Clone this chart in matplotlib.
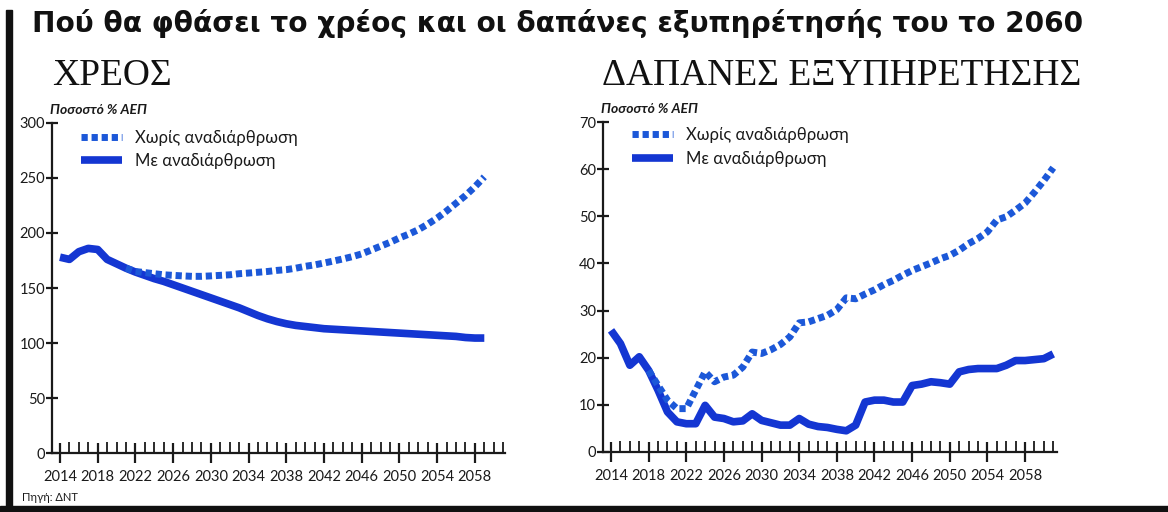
import numpy as np
import matplotlib
matplotlib.use("Agg")
import matplotlib.pyplot as plt
from matplotlib.ticker import MultipleLocator
from matplotlib.patches import Rectangle

# data to plot
years_debt = list(range(2014, 2060))
debt_with = [178, 176, 183, 186, 185, 176, 172, 168, 164.5, 161.5,
             158.5, 156, 153, 150, 147, 144, 141, 138, 135, 132,
             128.5, 125, 122, 119.5, 117.5, 116, 115, 114, 113, 112.5,
             112, 111.5, 111, 110.5, 110, 109.5, 109, 108.5, 108, 107.5,
             107, 106.5, 106, 105, 104.5, 104.5]
years_debt_no = list(range(2021, 2060))
debt_without = [168, 165, 164, 163, 162, 161.5, 161, 160.6, 160.6, 161,
                161.5, 162, 163, 163.6, 164.3, 165, 166, 166.7, 168, 169.7,
                171, 172.7, 174.5, 176.4, 178.5, 181, 184.5, 188, 191.5, 195.5,
                199, 203, 208, 213.6, 220, 227, 234, 242, 251]

years_serv = list(range(2014, 2062))
serv_with = [25.8, 23, 18.4, 20.2, 17.3, 13.1, 8.5, 6.4, 6.0, 6.0,
             9.9, 7.4, 7.1, 6.4, 6.6, 8.1, 6.7, 6.2, 5.7, 5.7,
             7.1, 5.9, 5.4, 5.2, 4.8, 4.5, 5.7, 10.6, 11.0, 11.0,
             10.6, 10.6, 14.1, 14.4, 14.9, 14.7, 14.4, 17.0, 17.5, 17.7,
             17.7, 17.7, 18.4, 19.4, 19.4, 19.6, 19.8, 20.8]
years_serv_no = list(range(2018, 2062))
serv_without = [17.3, 14.1, 11.0, 9.2, 9.2, 13.1, 17.0, 14.9, 15.9, 16.3,
                18.0, 21.2, 20.9, 21.7, 22.8, 24.4, 27.4, 27.6, 28.3, 29.0,
                30.2, 32.7, 32.5, 33.5, 34.4, 35.5, 36.4, 37.5, 38.5, 39.3,
                40.1, 41.0, 41.7, 42.8, 44.2, 45.3, 46.7, 49.2, 49.9, 51.3,
                52.8, 55.1, 57.6, 60.3]

label_no = 'Χωρίς αναδιάρθρωση'
label_with = 'Με αναδιάρθρωση'
xtick_years = list(range(2014, 2059, 4))

c_dash = '#1c58d8'
c_solid = '#1436d2'
tick_font = 'Lato'

fig = plt.figure(figsize=(11.68, 5.12), dpi=100)

# frame bars
fig.patches.append(Rectangle((0.005, 0.0), 0.0055, 0.98, transform=fig.transFigure,
                             color='#111111', zorder=0))
fig.patches.append(Rectangle((0.0, 0.0), 1.0, 0.012, transform=fig.transFigure,
                             color='#111111', zorder=0))

fig.text(0.027, 0.955, 'Πού θα φθάσει το χρέος και οι δαπάνες εξυπηρέτησής του το 2060',
         fontsize=20.2, fontweight='bold', family='DejaVu Sans', va='center', ha='left',
         color='#111111')


def setup(ax, xlim, ymax, ystep, title, tx):
    ax.set_xlim(*xlim)
    ax.set_ylim(0, ymax)
    for s in ['top', 'right']:
        ax.spines[s].set_visible(False)
    for s in ['left', 'bottom']:
        ax.spines[s].set_linewidth(1.6)
        ax.spines[s].set_color('#1a1a1a')
    ax.set_xticks(xtick_years)
    ax.xaxis.set_minor_locator(MultipleLocator(1))
    ax.yaxis.set_major_locator(MultipleLocator(ystep))
    ax.tick_params(axis='x', which='major', direction='inout', length=15, width=1.6,
                   color='#1a1a1a', pad=5)
    ax.tick_params(axis='x', which='minor', direction='in', length=8, width=1.3,
                   color='#1a1a1a')
    ax.tick_params(axis='y', which='major', direction='inout', length=8, width=1.6,
                   color='#1a1a1a', pad=1)
    for lab in ax.get_xticklabels() + ax.get_yticklabels():
        lab.set_family(tick_font)
        lab.set_fontsize(10.5)
        lab.set_color('#1a1a1a')
    fig.text(tx, 0.853, title, fontsize=27, family='Liberation Serif', va='center',
             ha='left', color='#111111')
    ax.text(-0.005, 1.02, 'Ποσοστό % ΑΕΠ', transform=ax.transAxes, fontsize=10,
            fontstyle='italic', fontweight='bold', family='Lato', ha='left', va='bottom',
            color='#1a1a1a')


ax1 = fig.add_axes([0.0445, 0.1152, 0.3879, 0.6446])
setup(ax1, (2013.15, 2061.2), 300, 50, 'ΧΡΕΟΣ', 0.045)
ax1.plot(years_debt_no, debt_without, color=c_dash, lw=5, linestyle=(0, (0.9, 0.55)),
         label=label_no, zorder=3)
ax1.plot(years_debt, debt_with, color=c_solid, lw=5.5, solid_capstyle='butt',
         solid_joinstyle='round', label=label_with, zorder=2)

ax2 = fig.add_axes([0.5163, 0.1172, 0.3887, 0.6445])
setup(ax2, (2013.15, 2061.4), 70, 10, 'ΔΑΠΑΝΕΣ ΕΞΥΠΗΡΕΤΗΣΗΣ', 0.515)
ax2.plot(years_serv_no, serv_without, color=c_dash, lw=5, linestyle=(0, (0.9, 0.55)),
         label=label_no, zorder=3)
ax2.plot(years_serv, serv_with, color=c_solid, lw=5.5, solid_capstyle='butt',
         solid_joinstyle='round', label=label_with, zorder=2)

for ax, anchor in [(ax1, (0.03, 1.025)), (ax2, (0.03, 1.03))]:
    leg = ax.legend(loc='upper left', bbox_to_anchor=anchor, frameon=False,
                    handlelength=2.5, handletextpad=0.75, labelspacing=0.45,
                    prop={'family': 'Lato', 'size': 12})
    for t in leg.get_texts():
        t.set_color('#1a1a1a')

fig.text(0.019, 0.028, 'Πηγή: ΔΝΤ', fontsize=8, family='Lato', color='#1a1a1a',
         va='center')

plt.savefig('out.png', dpi=100)
